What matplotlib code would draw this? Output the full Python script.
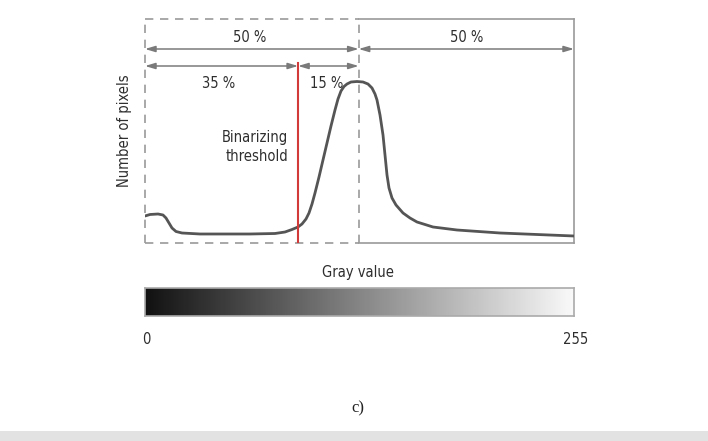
import matplotlib
matplotlib.use("Agg")
import matplotlib.pyplot as plt
import numpy as np

# Histogram curve (gray value vs. relative number of pixels)
gray = [0, 2.97, 7.73, 10.70, 12.48, 14.27, 16.05, 18.43, 21.99, 32.69, 62.41, 77.27,
        83.22, 87.38, 90.94, 93.32, 95.70, 97.48, 99.27, 101.05, 103.43, 105.80,
        108.18, 110.56, 112.94, 114.72, 116.50, 118.29, 120.07, 122.45, 126.01, 129.58,
        132.55, 134.93, 136.71, 137.90, 139.69, 141.47, 142.66, 143.85, 145.04, 146.82,
        149.20, 153.36, 157.52, 161.68, 171.19, 185.45, 211.01, 255]
count = [27, 28.5, 29, 28, 25, 20, 15, 11.5, 10, 9, 9, 9.5,
         11, 13.5, 16, 19, 24, 30, 39, 50, 66, 83,
         100, 117, 133, 144, 152, 156.5, 159, 161, 161.5, 161,
         159, 155, 149, 143, 128, 108, 88, 68, 55, 45,
         38, 30, 25, 21, 16, 13, 10, 7]
threshold = 91
median = 127
pct_labels = ["50 %", "50 %", "35 %", "15 %"]

plt.rcParams['font.family'] = ["DejaVu Sans"]
plt.rcParams['font.stretch'] = 'condensed'
TXT = "#2e2e2e"
BOX = "#9a9a9a"
ARR = "#7a7a7a"
FS = 10.5

fig = plt.figure(figsize=(7.08, 4.41), dpi=100)
W, H = 708, 441

def fx(px):
    return px / W

def fy(py):
    return 1 - py / H

ax = fig.add_axes([fx(145), fy(243), fx(574) - fx(145), fy(19) - fy(243)])
ax.set_xlim(0, 255)
ax.set_ylim(0, 224)
for s in ax.spines.values():
    s.set_visible(False)
ax.set_xticks([])
ax.set_yticks([])
ax.patch.set_alpha(0)

# box: left half dashed, right half solid
dash = dict(color=BOX, lw=1.2, ls=(0, (5, 4)), clip_on=False)
solid = dict(color=BOX, lw=1.2, clip_on=False)
ax.plot([0, median], [224, 224], **dash)
ax.plot([0, median], [0, 0], **dash)
ax.plot([0, 0], [0, 224], **dash)
ax.plot([median, median], [0, 224], **dash)
ax.plot([median, 255], [224, 224], **solid)
ax.plot([median, 255], [0, 0], **solid)
ax.plot([255, 255], [0, 224], **solid)

# curve
ax.plot(gray, count, color="#555555", lw=2.0, solid_capstyle='round',
        solid_joinstyle='round', zorder=3)

# threshold
ax.plot([threshold, threshold], [0, 180], color="#d23a3a", lw=1.5, zorder=4)

# arrows
ap = dict(arrowstyle='<|-|>,head_length=0.6,head_width=0.18', color=ARR, lw=1.1,
          shrinkA=0, shrinkB=0)
def arrow(x0, x1, y):
    ax.annotate("", xy=(x1, y), xytext=(x0, y), arrowprops=ap, annotation_clip=False)

arrow(0, median, 194)
arrow(median, 255, 194)
arrow(0, threshold, 177)
arrow(threshold, median, 177)

ax.text(62, 206, pct_labels[0], ha='center', va='center', fontsize=FS, color=TXT)
ax.text(191, 206, pct_labels[1], ha='center', va='center', fontsize=FS, color=TXT)
ax.text(44, 160, pct_labels[2], ha='center', va='center', fontsize=FS, color=TXT)
ax.text(108, 160, pct_labels[3], ha='center', va='center', fontsize=FS, color=TXT)

ax.text(85, 96, "Binarizing\nthreshold", ha='right', va='center', fontsize=FS,
        color=TXT, linespacing=1.3)

fig.text(fx(125), fy(131), "Number of pixels", rotation=90, ha='center', va='center',
         fontsize=FS, color=TXT)

# gray bar
cax = fig.add_axes([fx(145), fy(316), fx(574) - fx(145), fy(288) - fy(316)])
grad = np.linspace(0, 255, 256).reshape(1, -1)
cax.imshow(grad, aspect='auto', cmap='gray', vmin=-20, vmax=262, extent=[0, 255, 0, 1])
cax.set_xticks([])
cax.set_yticks([])
for s in cax.spines.values():
    s.set_color("#aaaaaa")
    s.set_linewidth(1.2)

fig.text(fx(358), fy(272), "Gray value", ha='center', va='center', fontsize=FS, color=TXT)
fig.text(fx(146), fy(339), "0", ha='center', va='center', fontsize=FS, color=TXT)
fig.text(fx(576), fy(339), "255", ha='center', va='center', fontsize=FS, color=TXT)

fig.text(fx(358), fy(408), "c)", ha='center', va='center', fontsize=12, color="#222222",
         family=["Liberation Serif", "DejaVu Serif"])

# bottom gray band
fig.add_artist(plt.Rectangle((0, 0), 1, fy(431), transform=fig.transFigure,
                             color="#e2e2e2", lw=0))

fig.savefig("out.png", dpi=100, facecolor="white")
